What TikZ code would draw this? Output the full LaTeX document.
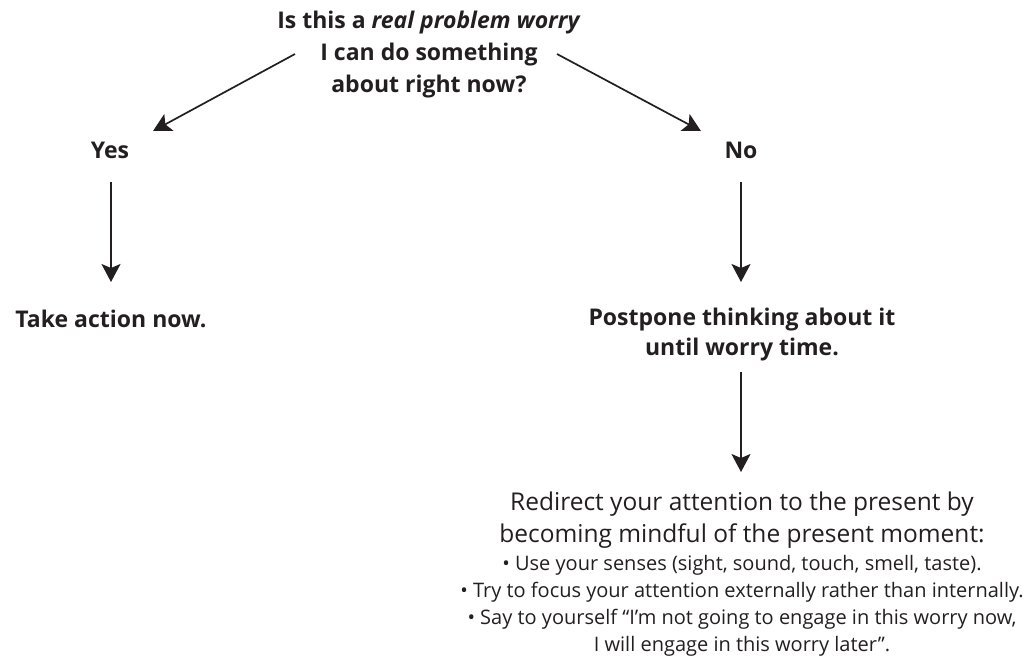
\documentclass[tikz,border=0pt]{standalone}
\usepackage{fontspec}
\setmainfont{Open Sans}
\usetikzlibrary{arrows.meta}
\definecolor{ink}{HTML}{231F20}
\tikzset{
  arr/.style={-{Stealth[width=19pt,length=18pt,inset=4pt]}, line width=1.7pt, draw=ink},
  hd/.style={font=\fontsize{23}{32}\selectfont\bfseries, align=center, text=ink, inner sep=0pt, anchor=base},
  big/.style={font=\fontsize{24.5}{32}\selectfont, align=center, text=ink, inner sep=0pt, anchor=base},
  small/.style={font=\fontsize{20}{27}\selectfont, align=center, text=ink, inner sep=0pt, anchor=base},
}
\begin{document}
\begin{tikzpicture}[x=1pt,y=-1pt]
\useasboundingbox (0,0) rectangle (1032,657);
% base anchor of a multi-line node = baseline of its last line
\node[hd] (q) at (429,92) {Is this a \textit{real problem worry}\\I can do something\\about right now?};
\node[hd] (yes) at (110,158) {Yes};
\node[hd] (no) at (741,158) {No};
\node[hd] (act) at (111,327) {Take action now.};
\node[hd, font=\fontsize{23}{30}\selectfont\bfseries] (post) at (742,355) {Postpone thinking about it\\until worry time.};
\node[big] (red) at (742,542) {Redirect your attention to the present by\\becoming mindful of the present moment:};
\node[small] (list) at (742,651) {• Use your senses (sight, sound, touch, smell, taste).\\• Try to focus your attention externally rather than internally.\\• Say to yourself “I’m not going to engage in this worry now,\\I will engage in this worry later”.};
\coordinate (qL) at (295,54);
\coordinate (qR) at (557,54);
\coordinate (yT) at (153,131);
\coordinate (nT) at (701,131);
\coordinate (yA) at (111,182);
\coordinate (yB) at (111,282);
\coordinate (nA) at (741,182);
\coordinate (nB) at (741,282);
\coordinate (pA) at (741,372);
\coordinate (pB) at (741,472);
\draw[arr] (qL) -- (yT);
\draw[arr] (qR) -- (nT);
\draw[arr] (yA) -- (yB);
\draw[arr] (nA) -- (nB);
\draw[arr] (pA) -- (pB);
\end{tikzpicture}
\end{document}
